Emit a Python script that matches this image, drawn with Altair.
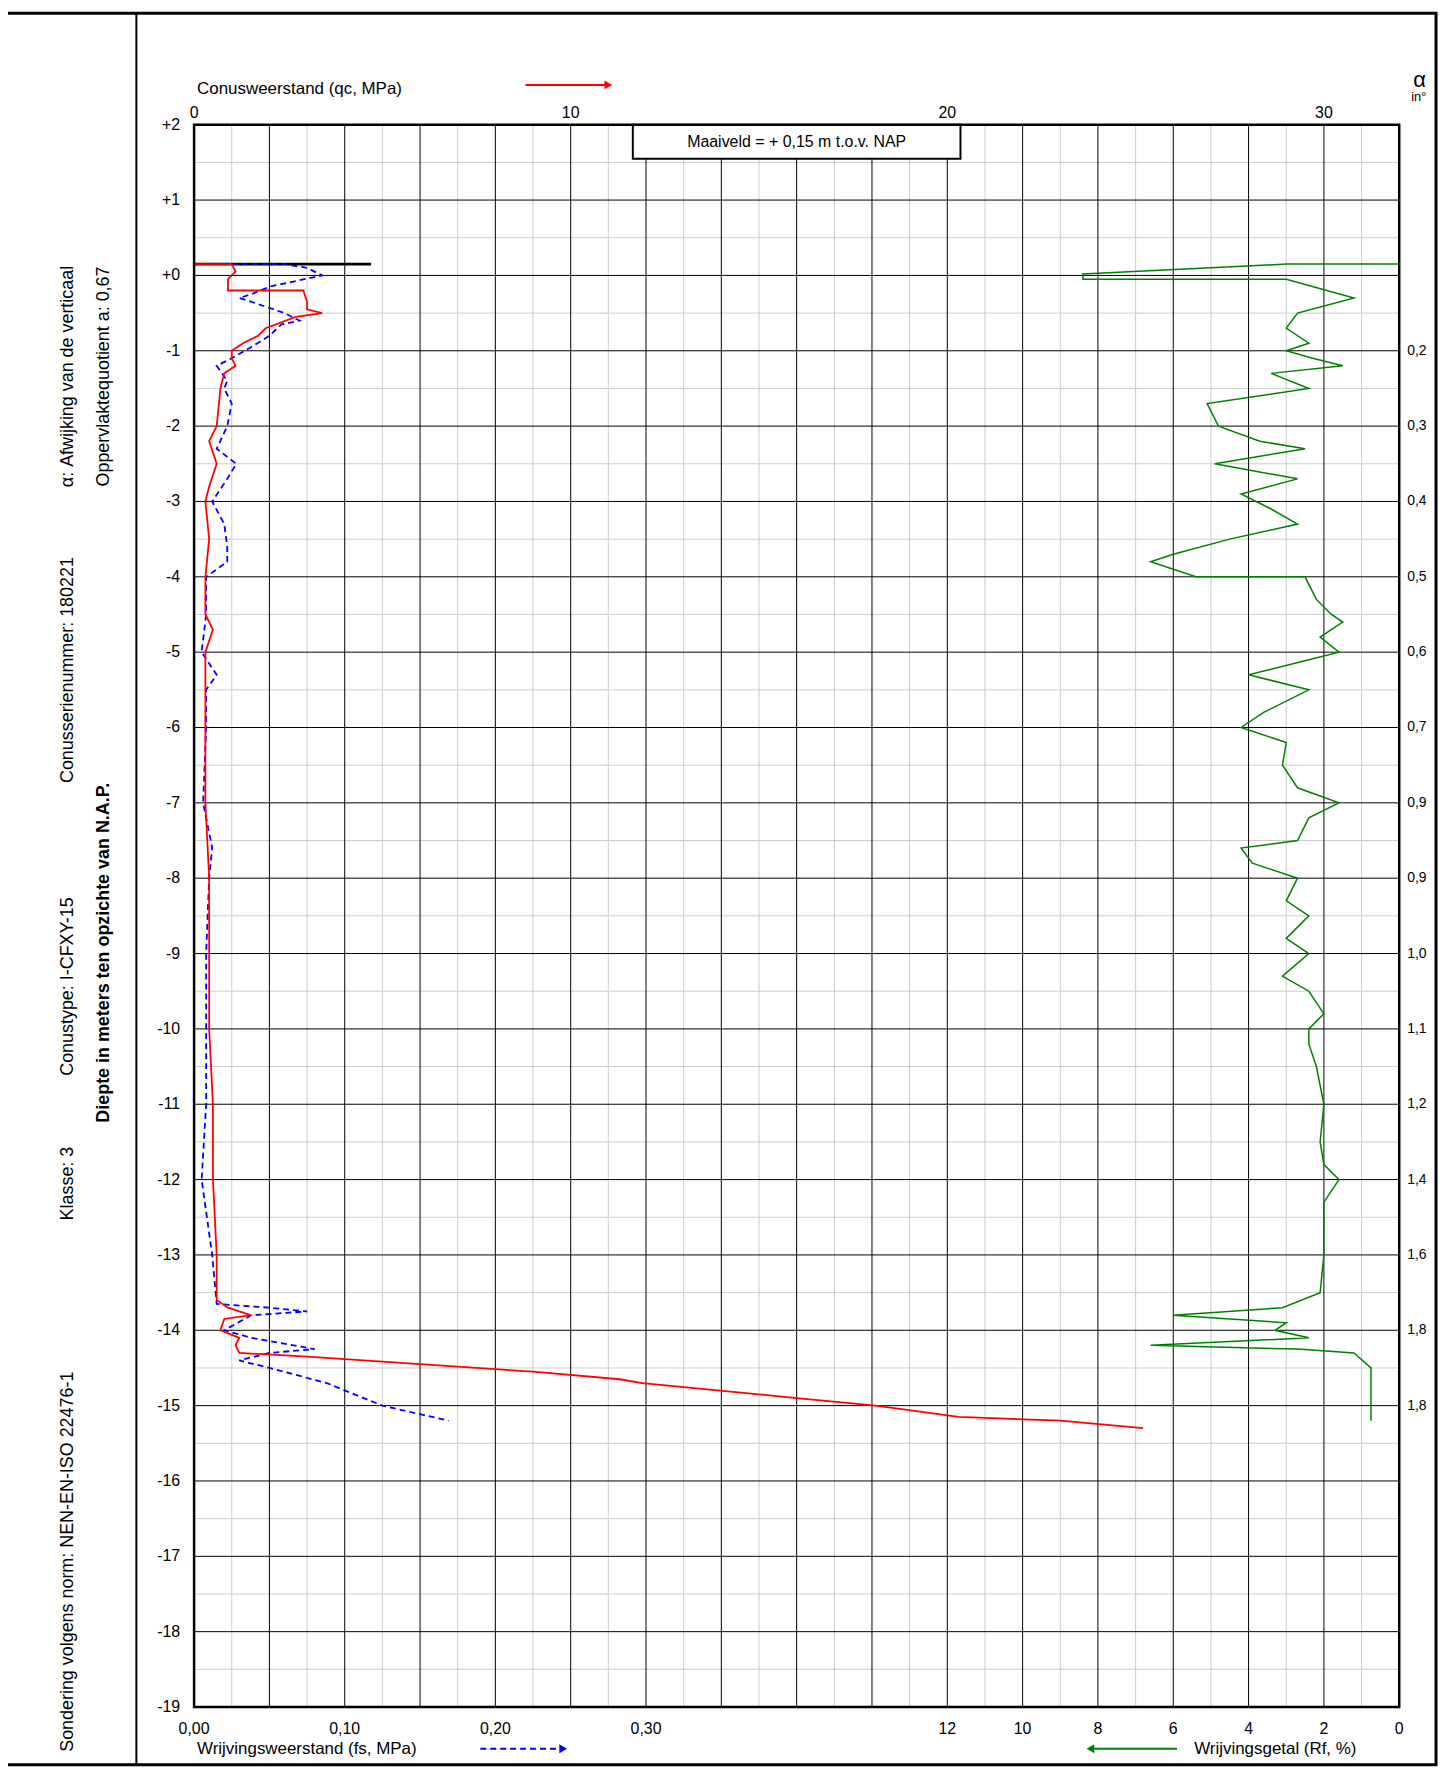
import altair as alt
import pandas as pd
import numpy as np

W, H = 1211, 1590
FONT = "Liberation Sans"

# Cone resistance qc (MPa) vs depth (m NAP)
qc_depth = [0.15,0.15,0.05,-0.05,-0.2,-0.2,-0.35,-0.45,-0.5,-0.55,-0.7,-0.8,-0.9,-1.0,-1.1,-1.2,-1.3,-1.5,-2.0,-2.2,-2.5,-2.8,-3.0,-3.5,-4.0,-4.5,-4.7,-5.0,-5.5,-6,-7,-8,-9,-10,-11,-12,-13,-13.6,-13.7,-13.8,-13.85,-14.0,-14.1,-14.2,-14.3,-14.35,-14.45,-14.55,-14.65,-14.7,-14.9,-15.0,-15.15,-15.2,-15.3]
qc_val = [0,1.0,1.1,0.9,0.9,2.9,3.0,3.0,3.4,2.7,1.9,1.7,1.3,1.0,1.0,1.1,0.8,0.7,0.6,0.4,0.6,0.4,0.3,0.4,0.3,0.3,0.5,0.3,0.3,0.3,0.3,0.4,0.4,0.4,0.5,0.5,0.6,0.6,0.9,1.5,0.8,0.7,1.2,1.1,1.2,3.0,6.0,9.0,11.3,11.9,16.0,18.1,20.3,23.0,25.2]

# Sleeve friction fs (MPa)
fs_depth = [0.15,0.15,0.1,0.0,-0.15,-0.25,-0.3,-0.35,-0.5,-0.6,-0.65,-0.8,-0.95,-1.1,-1.2,-1.4,-1.5,-1.7,-2.0,-2.3,-2.5,-2.7,-3.0,-3.3,-3.6,-3.8,-4.0,-4.5,-5.0,-5.3,-5.5,-6,-7,-7.6,-8,-9,-10,-11,-12,-13,-13.65,-13.7,-13.75,-13.8,-14.0,-14.1,-14.25,-14.3,-14.4,-14.5,-14.7,-15.0,-15.2]
fs_val = [0.025,0.060,0.075,0.085,0.050,0.038,0.030,0.038,0.060,0.070,0.058,0.050,0.038,0.025,0.015,0.022,0.020,0.025,0.022,0.015,0.028,0.022,0.012,0.020,0.022,0.022,0.008,0.008,0.005,0.015,0.008,0.008,0.006,0.012,0.010,0.008,0.008,0.008,0.005,0.012,0.015,0.050,0.075,0.038,0.020,0.038,0.080,0.050,0.030,0.050,0.088,0.125,0.169]

# Friction ratio Rf (%)
rf_depth = [0.15,0.15,0.02,-0.05,-0.05,-0.3,-0.5,-0.7,-0.9,-1.0,-1.1,-1.2,-1.3,-1.5,-1.7,-2.0,-2.2,-2.3,-2.5,-2.7,-2.9,-3.1,-3.3,-3.5,-3.7,-3.8,-4.0,-4.0,-4.3,-4.5,-4.6,-4.8,-5.0,-5.1,-5.3,-5.5,-5.8,-6.0,-6.2,-6.5,-6.8,-7.0,-7.2,-7.5,-7.6,-7.8,-8.0,-8.3,-8.5,-8.8,-9.0,-9.3,-9.5,-9.8,-10.0,-10.2,-10.5,-11,-11.5,-11.8,-12.0,-12.3,-12.5,-13,-13.5,-13.7,-13.8,-13.9,-14.0,-14.1,-14.2,-14.25,-14.3,-14.5,-15.0,-15.2]
rf_val = [0,3.0,8.4,8.4,3.0,1.2,2.7,3.0,2.4,3.0,2.3,1.5,3.4,2.4,5.1,4.8,3.7,2.5,4.9,2.7,4.2,3.4,2.7,4.5,6.0,6.6,5.4,2.5,2.2,1.8,1.5,2.1,1.6,2.4,4.0,2.4,3.6,4.2,3.0,3.1,2.7,1.6,2.4,2.7,4.2,3.9,2.7,3.0,2.4,3.0,2.4,3.1,2.4,2.0,2.4,2.4,2.2,2.0,2.1,2.0,1.6,2.0,2.0,2.0,2.1,3.1,6.0,3.0,3.3,2.4,6.6,2.7,1.2,0.75,0.75,0.75]

alpha_depth = list(range(-1, -16, -1))
alpha_lbl = ["0,2","0,3","0,4","0,5","0,6","0,7","0,9","0,9","1,0","1,1","1,2","1,4","1,6","1,8","1,8"]

depth_vals = list(range(2, -20, -1))
depth_lbls = ["+2", "+1", "+0"] + [str(v) for v in range(-1, -20, -1)]

top_vals = [0, 10, 20, 30]
bot_vals = [0, 4, 8, 12, 20, 22, 24, 26, 28, 30, 32]
bot_lbls = ["0,00","0,10","0,20","0,30","12","10","8","6","4","2","0"]

xs = alt.Scale(domain=[0, 32], nice=False, zero=False)
ys = alt.Scale(domain=[-19, 2], nice=False, zero=False)

qc_df = pd.DataFrame({"d": qc_depth, "x": qc_val, "i": range(len(qc_val))})
fs_df = pd.DataFrame({"d": fs_depth, "x": [v * 40 for v in fs_val], "i": range(len(fs_val))})
rf_df = pd.DataFrame({"d": rf_depth, "x": [32 - v for v in rf_val], "i": range(len(rf_val))})

minor_v = pd.DataFrame({"x": np.arange(1, 32, 2)})
major_v = pd.DataFrame({"x": np.arange(2, 32, 2)})
minor_h = pd.DataFrame({"y": np.arange(-18.5, 2, 1.0)})
major_h = pd.DataFrame({"y": np.arange(-18, 2, 1)})

X = lambda: alt.X("x:Q", scale=xs, axis=None)
Y = lambda f="d": alt.Y(f"{f}:Q", scale=ys, axis=None)

layers = []
layers.append(alt.Chart(minor_v).mark_rule(color="#cccccc", strokeWidth=1).encode(x=X()))
layers.append(alt.Chart(minor_h).mark_rule(color="#cccccc", strokeWidth=1).encode(y=Y("y")))
layers.append(alt.Chart(major_v).mark_rule(color="black", strokeWidth=1).encode(x=X()))
layers.append(alt.Chart(major_h).mark_rule(color="black", strokeWidth=1).encode(y=Y("y")))

# depth labels
dl_df = pd.DataFrame({"d": depth_vals, "t": depth_lbls})
layers.append(alt.Chart(dl_df).mark_text(font=FONT, fontSize=16, align="right", baseline="middle").encode(
    x=alt.value(-14), y=Y(), text="t:N"))

# Maaiveld box and ground line
box = pd.DataFrame({"x1": [11.65], "x2": [20.35], "y1": [2.0], "y2": [1.55], "ym": [1.775], "xm": [16.0],
                    "t": ["Maaiveld = + 0,15 m t.o.v. NAP"]})
layers.append(alt.Chart(box).mark_rect(fill="white", stroke="black", strokeWidth=2).encode(
    x=alt.X("x1:Q", scale=xs, axis=None), x2="x2", y=alt.Y("y1:Q", scale=ys, axis=None), y2="y2"))
layers.append(alt.Chart(box).mark_text(font=FONT, fontSize=16).encode(
    x=alt.X("xm:Q", scale=xs, axis=None), y=alt.Y("ym:Q", scale=ys, axis=None), text="t:N"))
ground = pd.DataFrame({"x1": [0], "x2": [4.7], "y": [0.15]})
layers.append(alt.Chart(ground).mark_rule(color="black", strokeWidth=3).encode(
    x=alt.X("x1:Q", scale=xs, axis=None), x2="x2", y=alt.Y("y:Q", scale=ys, axis=None)))

layers.append(alt.Chart(rf_df).mark_line(color="green", strokeWidth=1.5).encode(x=X(), y=Y(), order="i:Q"))
layers.append(alt.Chart(fs_df).mark_line(color="blue", strokeWidth=1.8, strokeDash=[6, 4]).encode(x=X(), y=Y(), order="i:Q"))
layers.append(alt.Chart(qc_df).mark_line(color="red", strokeWidth=1.8).encode(x=X(), y=Y(), order="i:Q"))

# plot border
layers.append(alt.Chart(pd.DataFrame({"a": [0]})).mark_rect(fill=None, stroke="black", strokeWidth=2.5).encode(
    x=alt.value(0), x2=alt.value(W), y=alt.value(0), y2=alt.value(H)))

# top / bottom labels
top_df = pd.DataFrame({"x": top_vals, "t": [str(v) for v in top_vals]})
layers.append(alt.Chart(top_df).mark_text(font=FONT, fontSize=16).encode(x=X(), y=alt.value(-12), text="t:N"))
bot_df = pd.DataFrame({"x": bot_vals, "t": bot_lbls})
layers.append(alt.Chart(bot_df).mark_text(font=FONT, fontSize=16).encode(x=X(), y=alt.value(H + 22), text="t:N"))

# alpha labels on right
al_df = pd.DataFrame({"d": alpha_depth, "t": alpha_lbl})
layers.append(alt.Chart(al_df).mark_text(font=FONT, fontSize=14, align="left").encode(
    x=alt.value(W + 8), y=Y(), text="t:N"))

# free text
txt = pd.DataFrame({
    "px": [3, 1225, 1223, 3, 1005],
    "py": [-36, -45, -28, H + 42, H + 42],
    "t": ["Conusweerstand (qc, MPa)", "α", "in°", "Wrijvingsweerstand (fs, MPa)", "Wrijvingsgetal (Rf, %)"],
    "s": [17, 22, 13, 17, 17],
})
layers.append(alt.Chart(txt).mark_text(font=FONT, align="left", color="black").encode(
    x=alt.X("px:Q", scale=None, axis=None), y=alt.Y("py:Q", scale=None, axis=None), text="t:N",
    size=alt.Size("s:Q", scale=None, legend=None)))

# arrows
arr = pd.DataFrame({
    "x1": [8.8, 7.6, 26.1], "x2": [11.0, 9.8, 23.8],
    "py": [-40, H + 42, H + 42], "c": ["red", "blue", "green"], "dash": [0, 1, 0]})
for i, r in arr.iterrows():
    d = arr.iloc[[i]]
    kw = {"strokeDash": [6, 4]} if r.dash else {}
    layers.append(alt.Chart(d).mark_rule(color=r.c, strokeWidth=2, **kw).encode(
        x=alt.X("x1:Q", scale=xs, axis=None), x2="x2", y=alt.Y("py:Q", scale=None, axis=None)))
    layers.append(alt.Chart(d).mark_point(shape="triangle-right" if r.x2 > r.x1 else "triangle-left",
        filled=True, color=r.c, size=80, opacity=1).encode(
        x=alt.X("x2:Q", scale=xs, axis=None), y=alt.Y("py:Q", scale=None, axis=None)))

# left vertical texts
lt = pd.DataFrame({
    "px": [-127, -127, -127, -127, -127, -91, -91],
    "py": [1444, 1064, 866, 548, 253, 832, 253],
    "t": ["Sondering volgens norm: NEN-EN-ISO 22476-1", "Klasse: 3", "Conustype: I-CFXY-15",
          "Conusserienummer: 180221", "α: Afwijking van de verticaal",
          "Diepte in meters ten opzichte van N.A.P.", "Oppervlaktequotient a: 0,67"],
    "w": ["normal"] * 5 + ["bold", "normal"],
})
layers.append(alt.Chart(lt[lt.w == "normal"]).mark_text(font=FONT, fontSize=18, angle=270, align="center", baseline="middle").encode(
    x=alt.X("px:Q", scale=None, axis=None), y=alt.Y("py:Q", scale=None, axis=None), text="t:N"))
layers.append(alt.Chart(lt[lt.w == "bold"]).mark_text(font=FONT, fontSize=18, fontWeight="bold", angle=270, align="center", baseline="middle").encode(
    x=alt.X("px:Q", scale=None, axis=None), y=alt.Y("py:Q", scale=None, axis=None), text="t:N"))

# outer frame and separator
layers.append(alt.Chart(pd.DataFrame({"a": [0]})).mark_rect(fill=None, stroke="black", strokeWidth=3).encode(
    x=alt.value(-189), x2=alt.value(1248), y=alt.value(-112), y2=alt.value(1648)))
layers.append(alt.Chart(pd.DataFrame({"a": [0]})).mark_rule(color="black", strokeWidth=2).encode(
    x=alt.value(-58), y=alt.value(-112), y2=alt.value(1648)))

chart = alt.layer(*layers).properties(
    width=W, height=H,
    autosize=alt.AutoSizeParams(type="none"),
    padding={"left": 187, "top": 113, "right": 45, "bottom": 60},
).configure_view(stroke=None)

chart.save("out.html", embed_options={"renderer": "svg", "actions": False})
